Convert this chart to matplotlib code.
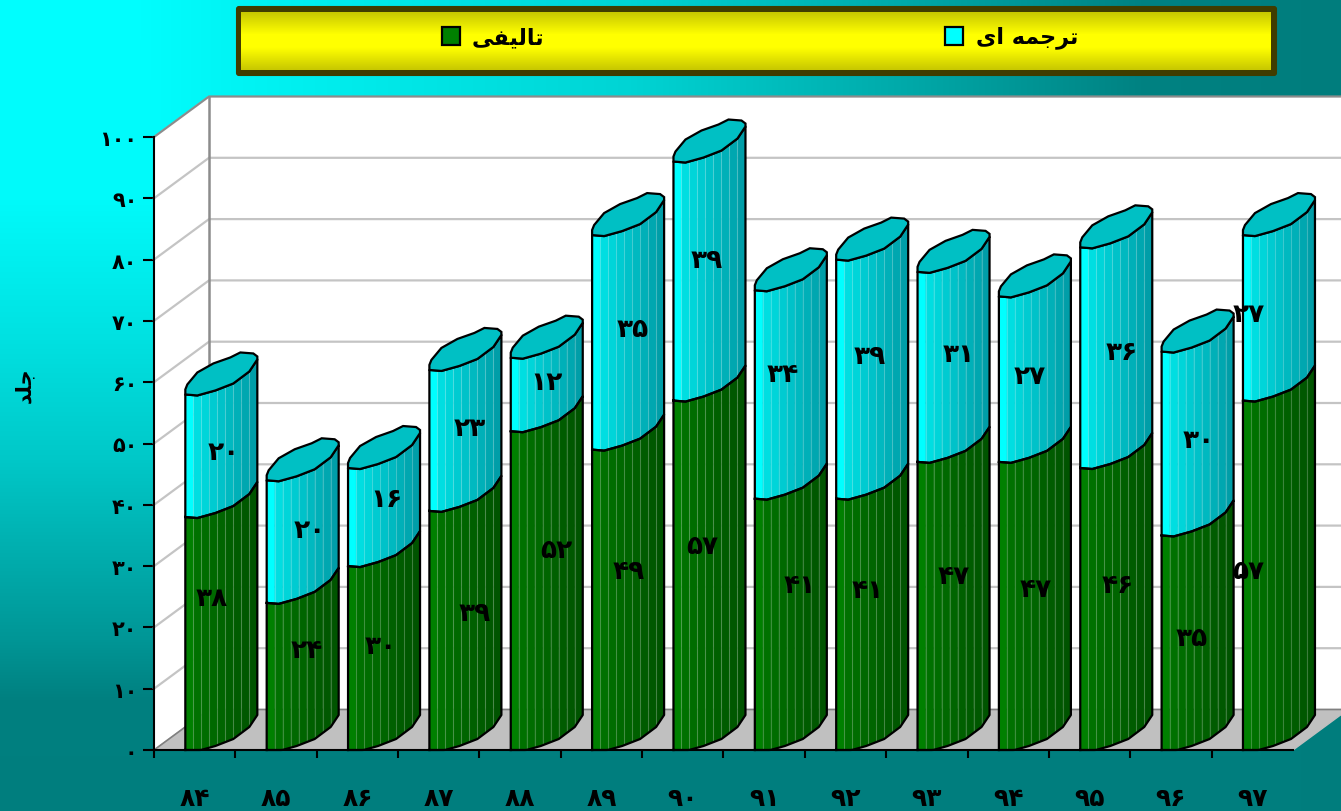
import numpy as np
import matplotlib
matplotlib.use("Agg")
import matplotlib.pyplot as plt
from matplotlib.patches import Rectangle, FancyBboxPatch

plt.rcParams["font.family"] = ["DejaVu Sans"]
plt.rcParams["font.weight"] = "bold"

# Data
years = [84, 85, 86, 87, 88, 89, 90, 91, 92, 93, 94, 95, 96, 97]
taalifi = [38, 24, 30, 39, 52, 49, 57, 41, 41, 47, 47, 46, 35, 57]
tarjome = [20, 20, 16, 23, 12, 35, 39, 34, 39, 31, 27, 36, 30, 27]
y_ticks = [0, 10, 20, 30, 40, 50, 60, 70, 80, 90, 100]

# Hand placed data labels in the original (category units, value units)
taalifi_label_x = [0.71, 1.88, 2.79, 3.94, 4.94, 5.84, 6.74, 7.94, 8.77, 9.83, 10.84, 11.85, 12.76, 13.45]
taalifi_label_y = [24.8, 16.3, 17.0, 22.3, 32.6, 29.2, 33.3, 26.9, 26.1, 28.4, 26.3, 26.9, 18.3, 29.2]
tarjome_label_x = [0.86, 1.92, 2.86, 3.88, 4.83, 5.88, 6.79, 7.73, 8.80, 9.89, 10.77, 11.89, 12.84, 13.46]
tarjome_label_y = [48.6, 35.9, 40.9, 52.5, 60.0, 68.7, 79.9, 61.3, 64.3, 64.6, 61.0, 64.9, 50.6, 71.1]

# Presentation forms in visual order, matplotlib does not shape arabic
label_taalifi = "\uFE97\uFE8E\uFEDF\uFBFF\uFED4\uFBFD"[::-1]
label_tarjome = "\uFE97\uFEAE\uFE9F\uFEE4\uFEEA \uFE8D\uFBFC"[::-1]
label_y = "\uFE9F\uFEE0\uFEAA"[::-1]

persian = str.maketrans("0123456789", "۰۱۲۳۴۵۶۷۸۹")


def fa(n):
    return str(n).translate(persian)


W, H = 1341, 812
fig = plt.figure(figsize=(W / 100, H / 100), dpi=100)

# Background gradient
bg = fig.add_axes([0, 0, 1, 1], zorder=0)
bg.axis("off")
xx, yy = np.meshgrid(np.arange(W), np.arange(H))
g_x = np.interp(xx, [0, 130, 230, 630, 900, 1140, 1341], [255, 255, 245, 212, 170, 130, 125])
g_y = np.interp(yy, [0, 200, 340, 460, 640, 700, 812], [255, 250, 225, 200, 150, 128, 126])
g = np.minimum(g_x, g_y) / 255
img = np.dstack([np.zeros_like(g), g, g])
bg.imshow(img, extent=[0, W, H, 0], aspect="auto", interpolation="bilinear", zorder=0)

# Legend box
bg.add_patch(FancyBboxPatch((237, 8), 1039, 68, boxstyle="round,pad=0,rounding_size=2",
                            fc="#403c00", ec="#403c00", lw=1.5, zorder=1))
t = 1 - np.abs(np.linspace(-1, 1, 58))
yel = 200 + 55 * np.clip(t * 1.3, 0, 1)
yel_img = np.zeros((58, 1, 3))
yel_img[:, 0, 0] = yel / 255
yel_img[:, 0, 1] = yel / 255
bg.imshow(yel_img, extent=[241, 1271, 71, 13], aspect="auto", interpolation="bilinear", zorder=2)
bg.set_xlim(0, W)
bg.set_ylim(H, 0)
bg.add_patch(Rectangle((442, 28), 18, 18, fc="#008000", ec="black", lw=1.6, zorder=3))
bg.add_patch(Rectangle((945, 28), 18, 18, fc="#00ffff", ec="black", lw=1.6, zorder=3))
bg.text(508, 38, label_taalifi, fontsize=16, ha="center", va="center", zorder=4)
bg.text(1027, 38, label_tarjome, fontsize=16, ha="center", va="center", zorder=4)
bg.text(24, 385, label_y, fontsize=15, rotation=90, ha="center", va="center", zorder=4)

# Chart axes, the front plane of the 3d box
ax = fig.add_axes([154 / W, (H - 751) / H, (1293 - 154) / W, 613 / H], zorder=1)
ax.set_xlim(0, 14)
ax.set_ylim(0, 100)
ax.patch.set_alpha(0)
px_x = 14 / (1293 - 154)
px_y = 100 / 613
depth_x = 55 * px_x
depth_y = 40.5 * px_y

# Walls and floor
ax.fill([0, depth_x, depth_x, 0], [0, depth_y, 100 + depth_y, 100], color="white", clip_on=False, zorder=1)
ax.fill([depth_x, 14 + depth_x, 14 + depth_x, depth_x], [depth_y, depth_y, 100 + depth_y, 100 + depth_y],
        color="white", clip_on=False, zorder=1)
ax.fill([0, 14, 14 + depth_x, depth_x], [0, 0, depth_y, depth_y], color="#c0c0c0", clip_on=False, zorder=1)
for v in y_ticks[1:-1]:
    ax.plot([0, depth_x, 14 + depth_x], [v, v + depth_y, v + depth_y], color="#c4c4c4", lw=1.6,
            clip_on=False, zorder=2)
ax.plot([0, depth_x, 14 + depth_x], [100, 100 + depth_y, 100 + depth_y], color="#8c8c8c", lw=1.6,
        clip_on=False, zorder=2)
ax.plot([depth_x, depth_x], [0 + depth_y, 100 + depth_y], color="#8c8c8c", lw=1.8, clip_on=False, zorder=2)
ax.plot([0, depth_x, 14 + depth_x], [0, depth_y, depth_y], color="#808080", lw=1.2, clip_on=False, zorder=2)

# Outline of the squashed cylinders, in pixels from the front left corner
edge_x = np.array([0, 12, 30, 48, 64, 72])
edge_y = np.array([0, -1, 4, 11, 23, 35])
cap_x = np.array([72, 72, 68, 55, 45, 28, 12, 2, 0])
cap_y = np.array([35, 38, 41, 42, 37, 31, 22, 10, 5])
strip_x = np.arange(0, 73, 8)
fine_x = np.linspace(0, 72, 37)
fine_y = np.interp(fine_x, edge_x, edge_y)

green_l, green_r = np.array([0, 128, 0]) / 255, np.array([0, 84, 0]) / 255
cyan_l, cyan_r = np.array([0, 255, 255]) / 255, np.array([0, 158, 168]) / 255


def edge_at(xp, v):
    yp = np.interp(xp, edge_x, edge_y)
    if v == 0:
        yp = np.maximum(yp, 0)
    return v + yp * px_y


def draw_segment(left, v0, v1, c_l, c_r, z):
    for k in range(len(strip_x) - 1):
        xs = fine_x[(fine_x >= strip_x[k]) & (fine_x <= strip_x[k + 1])]
        frac = k / (len(strip_x) - 2)
        col = c_l + (c_r - c_l) * (0.75 * frac + 0.25 * (k > 0))
        ax.fill(np.r_[left + xs * px_x, left + xs[::-1] * px_x],
                np.r_[edge_at(xs, v0), edge_at(xs[::-1], v1)],
                color=col, lw=0.3, clip_on=False, zorder=z)
    for xp in strip_x[1:-1]:
        ax.plot([left + xp * px_x] * 2, [edge_at(xp, v0), edge_at(xp, v1)], color="white", alpha=0.24,
                lw=0.8, clip_on=False, zorder=z + 0.1)
    ax.plot(np.r_[left + fine_x * px_x, left + fine_x[::-1] * px_x, left],
            np.r_[edge_at(fine_x, v0), edge_at(fine_x[::-1], v1), v0],
            color="black", lw=1.6, clip_on=False, zorder=z + 0.2)


for i in range(len(years)):
    left = i + 0.385
    z = 3 + i
    total = taalifi[i] + tarjome[i]
    draw_segment(left, 0, taalifi[i], green_l, green_r, z)
    draw_segment(left, taalifi[i], total, cyan_l, cyan_r, z)
    # top cap
    ax.fill(np.r_[left + fine_x * px_x, left + cap_x * px_x],
            np.r_[total + fine_y * px_y, total + cap_y * px_y],
            fc="#00c0c4", ec="black", lw=1.6, clip_on=False, zorder=z + 0.3)

for i in range(len(years)):
    ax.text(taalifi_label_x[i], taalifi_label_y[i], fa(taalifi[i]), fontsize=19, ha="center", va="center", zorder=30)
    ax.text(tarjome_label_x[i], tarjome_label_y[i], fa(tarjome[i]), fontsize=19, ha="center", va="center", zorder=30)

# Axes
for side in ["top", "right"]:
    ax.spines[side].set_visible(False)
for side in ["left", "bottom"]:
    ax.spines[side].set_linewidth(1.5)
    ax.spines[side].set_zorder(25)
ax.set_yticks(y_ticks, [fa(v) for v in y_ticks], fontsize=15)
ax.set_xticks(range(14), [""] * 14)
ax.set_xticks(np.arange(14) + 0.5, [fa(y) for y in years], minor=True, fontsize=18)
ax.tick_params(axis="y", length=8, width=1.5, pad=4)
ax.tick_params(axis="x", which="major", length=6, width=1.5)
ax.tick_params(axis="x", which="minor", length=0, pad=26)

fig.savefig("out.png", dpi=100)
